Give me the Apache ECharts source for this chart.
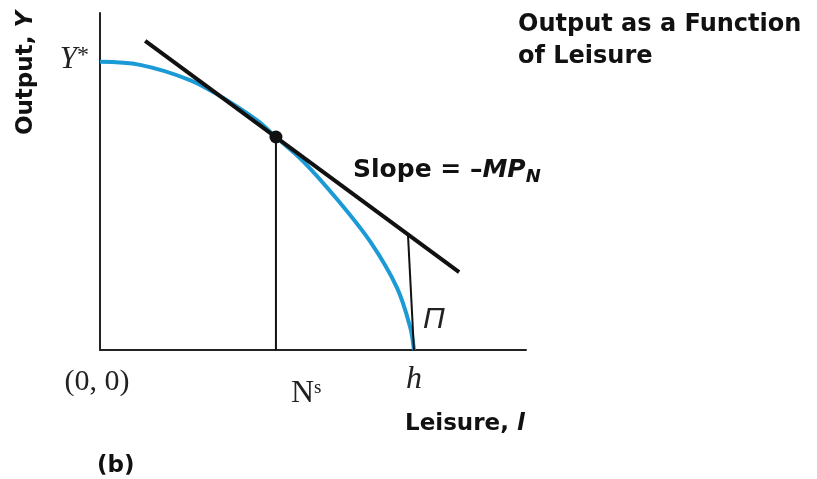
<!DOCTYPE html>
<html>
<head>
<meta charset="utf-8">
<script src="https://cdn.jsdelivr.net/npm/echarts@6/dist/echarts.min.js"></script>
<style>
  html, body { margin: 0; padding: 0; background: #fff; }
  #chart { width: 817px; height: 479px; }
</style>
</head>
<body>
<div id="chart"></div>
<script>
// production possibilities curve: leisure (x) vs output (y)
const curveX = [0, 9.4, 21.1, 28.9, 36.8, 41.3, 47.7, 55.6, 63.4, 69.7, 72.8, 73.7]
const curveY = [85.5, 84.6, 80.1, 74.8, 68.2, 63.2, 56.0, 44.8, 32.2, 18.5, 6.8, 0]
// tangent line (slope = -MP_N)
const tangentX = [10.6, 84.3]
const tangentY = [91.7, 23.1]
// chosen point and the drop line
const pointX = 41.3
const pointY = 63.2
// profit line from tangent down to h
const profitX = [72.3, 73.7]
const profitY = [34.1, 0]

const pairs = (xs, ys) => xs.map((x, i) => [x, ys[i]])

const sansBold = '"DejaVu Sans", "Open Sans", sans-serif'
const serif = '"Liberation Serif", "DejaVu Serif", serif'

let chart = echarts.init(document.getElementById('chart'))
let options = {
  animation: false,
  grid: {
    left: 100,
    right: 291,
    top: 13,
    bottom: 129
  },
  xAxis: {
    type: 'value',
    min: 0,
    max: 100,
    axisLine: { show: true, lineStyle: { color: '#222', width: 2 } },
    axisTick: { show: false },
    axisLabel: { show: false },
    splitLine: { show: false }
  },
  yAxis: {
    type: 'value',
    min: 0,
    max: 100,
    axisLine: { show: true, lineStyle: { color: '#222', width: 2 } },
    axisTick: { show: false },
    axisLabel: { show: false },
    splitLine: { show: false }
  },
  series: [
    {
      type: 'line',
      smooth: 0.35,
      symbol: 'none',
      lineStyle: { color: '#1b9ad6', width: 4 },
      data: pairs(curveX, curveY)
    },
    {
      type: 'line',
      symbol: 'none',
      lineStyle: { color: '#111', width: 4 },
      data: pairs(tangentX, tangentY),
      z: 3
    },
    {
      type: 'line',
      symbol: 'none',
      lineStyle: { color: '#111', width: 2 },
      data: [[pointX, pointY], [pointX, 0]]
    },
    {
      type: 'line',
      symbol: 'none',
      lineStyle: { color: '#111', width: 2 },
      data: pairs(profitX, profitY)
    },
    {
      type: 'scatter',
      symbolSize: 13,
      itemStyle: { color: '#111', opacity: 1 },
      data: [[pointX, pointY]],
      z: 5
    }
  ],
  graphic: [
    {
      type: 'text', x: 26, y: 73, rotation: Math.PI / 2,
      style: {
        text: '{b|Output, }{i|Y}',
        align: 'center', verticalAlign: 'middle',
        rich: {
          b: { font: 'bold 23px ' + sansBold, fill: '#111' },
          i: { font: 'italic bold 23px ' + sansBold, fill: '#111' }
        }
      }
    },
    {
      type: 'text', x: 89, y: 60,
      style: {
        text: '{a|Y}{s|*}',
        align: 'right', verticalAlign: 'middle',
        rich: {
          a: { font: 'italic 31px ' + serif, fill: '#222' },
          s: { font: '24px ' + serif, fill: '#222', padding: [0, 0, 8, 0] }
        }
      }
    },
    {
      type: 'text', x: 518, y: 25,
      style: {
        text: 'Output as a Function', font: 'bold 24px ' + sansBold,
        fill: '#111', verticalAlign: 'middle'
      }
    },
    {
      type: 'text', x: 518, y: 57,
      style: {
        text: 'of Leisure', font: 'bold 24px ' + sansBold,
        fill: '#111', verticalAlign: 'middle'
      }
    },
    {
      type: 'text', x: 353, y: 170,
      style: {
        text: '{a|Slope = –}{i|MP}{n|N}',
        verticalAlign: 'middle',
        rich: {
          a: { font: 'bold 25px ' + sansBold, fill: '#111' },
          i: { font: 'italic bold 25px ' + sansBold, fill: '#111' },
          n: { font: 'italic bold 18px ' + sansBold, fill: '#111', padding: [14, 0, 0, 0] }
        }
      }
    },
    {
      type: 'text', x: 423, y: 320,
      style: {
        text: 'Π', font: 'italic 30px "Liberation Sans", sans-serif',
        fill: '#222', verticalAlign: 'middle'
      }
    },
    {
      type: 'text', x: 97, y: 382,
      style: {
        text: '(0, 0)', font: '30px ' + serif,
        fill: '#222', align: 'center', verticalAlign: 'middle'
      }
    },
    {
      type: 'text', x: 291, y: 394,
      style: {
        text: '{n|N}{s|s}',
        verticalAlign: 'middle',
        rich: {
          n: { font: '32px ' + serif, fill: '#222' },
          s: { font: '19px ' + serif, fill: '#222', padding: [0, 0, 12, 0] }
        }
      }
    },
    {
      type: 'text', x: 414, y: 380,
      style: {
        text: 'h', font: 'italic 32px ' + serif,
        fill: '#222', align: 'center', verticalAlign: 'middle'
      }
    },
    {
      type: 'text', x: 405, y: 424,
      style: {
        text: '{a|Leisure, }{i|l}',
        verticalAlign: 'middle',
        rich: {
          a: { font: 'bold 23px ' + sansBold, fill: '#111' },
          i: { font: 'italic bold 23px ' + sansBold, fill: '#111' }
        }
      }
    },
    {
      type: 'text', x: 97, y: 466,
      style: {
        text: '(b)', font: 'bold 23px ' + sansBold,
        fill: '#111', verticalAlign: 'middle'
      }
    }
  ]
}
chart.setOption(options)
window.addEventListener('resize', () => chart.resize())
</script>
</body>
</html>
